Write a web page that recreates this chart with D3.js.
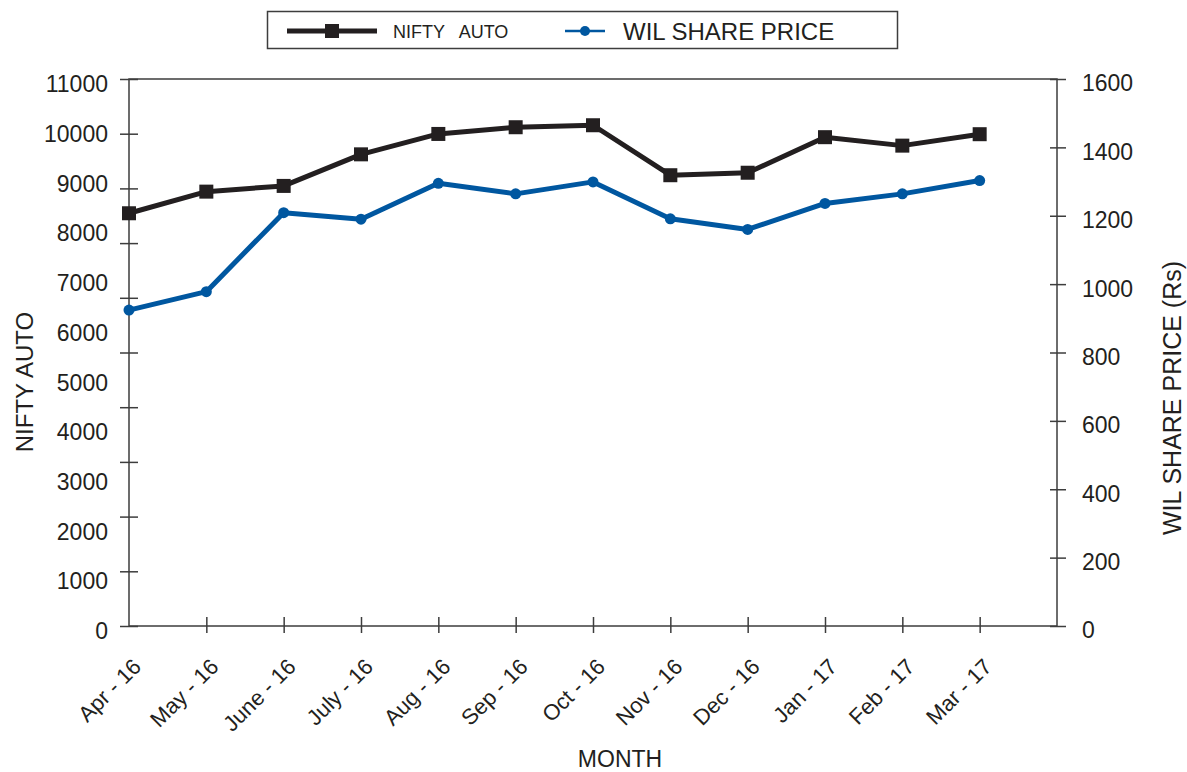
<!DOCTYPE html>
<html>
<head>
<meta charset="utf-8">
<script src="https://cdn.jsdelivr.net/npm/d3@7"></script>
<style>
  body { margin: 0; background: #fff; }
  text { font-family: "Liberation Sans", Arial, sans-serif; fill: #231f20; }
</style>
</head>
<body>
<div id="chart"></div>
<script>
var months = ["Apr - 16", "May - 16", "June - 16", "July - 16", "Aug - 16", "Sep - 16",
              "Oct - 16", "Nov - 16", "Dec - 16", "Jan - 17", "Feb - 17", "Mar - 17"];
var niftyAuto = [8300, 8735, 8850, 9485, 9895, 10030, 10070, 9065, 9115, 9830, 9660, 9890];
var wilPrice = [924, 978, 1209, 1190, 1295, 1264, 1299, 1191, 1160, 1236, 1264, 1303];
var leftTickLabels = d3.range(0, 11001, 1000);
var leftTickMarks = d3.range(0, 11001, 1100);
var rightTicks = d3.range(0, 1601, 200);

var W = 1187, H = 772;
var margin = {top: 79, right: 130, bottom: 146, left: 129};
var width = W - margin.left - margin.right;
var height = H - margin.top - margin.bottom;
var ink = "#231f20";
var frame = "#3d3d3d";
var blue = "#0057a0";

var svg = d3.select("#chart").append("svg")
    .attr("width", W)
    .attr("height", H);

var g = svg.append("g")
    .attr("transform", "translate(" + margin.left + "," + margin.top + ")");

var x = d3.scaleLinear().domain([0, months.length]).range([0, width]);
var yL = d3.scaleLinear().domain([0, 11000]).range([height, 0]);
var yR = d3.scaleLinear().domain([0, 1600]).range([height, 0]);

// frame
g.append("rect")
    .attr("width", width).attr("height", height)
    .attr("fill", "none").attr("stroke", frame).attr("stroke-width", 1.5);

// left axis: tick marks and labels are spaced differently in the original
var lm = g.append("g")
    .call(d3.axisLeft(yL).tickValues(leftTickMarks).tickFormat("").tickSize(9).tickSizeOuter(0));
lm.select(".domain").remove();
lm.selectAll("line").attr("x2", -9).attr("x1", 9).attr("stroke", frame).attr("stroke-width", 1.5);

var ll = g.append("g")
    .call(d3.axisLeft(yL).tickValues(leftTickLabels).tickFormat(d3.format("d"))
      .tickSize(0).tickPadding(21));
ll.select(".domain").remove();
ll.selectAll("text").attr("font-size", 23).attr("dy", "0.55em").attr("fill", ink)
    .attr("font-family", "Liberation Sans, Arial, sans-serif");

// right axis
var ra = g.append("g")
    .attr("transform", "translate(" + width + ",0)")
    .call(d3.axisRight(yR).tickValues(rightTicks).tickFormat(d3.format("d"))
      .tickSize(8).tickPadding(17));
ra.select(".domain").remove();
ra.selectAll("line").attr("x1", -7).attr("x2", 9).attr("stroke", frame).attr("stroke-width", 1.5);
ra.selectAll("text").attr("font-size", 23).attr("dy", "0.52em").attr("fill", ink)
    .attr("font-family", "Liberation Sans, Arial, sans-serif");

// bottom axis
var xa = g.append("g")
    .attr("transform", "translate(0," + height + ")")
    .call(d3.axisBottom(x).tickValues(d3.range(months.length))
      .tickFormat(function(i) { return months[i]; }).tickSize(7));
xa.select(".domain").remove();
xa.selectAll("line").attr("y1", -9).attr("y2", 7).attr("stroke", frame).attr("stroke-width", 1.5);
xa.selectAll("line").filter(function(d) { return d === 0; }).remove();
xa.selectAll("text")
    .attr("font-size", 22).attr("fill", ink)
    .attr("font-family", "Liberation Sans, Arial, sans-serif")
    .attr("text-anchor", "end")
    .attr("dy", null).attr("y", null)
    .attr("transform", "translate(13,42) rotate(-45)");

// axis titles
svg.append("text")
    .attr("transform", "translate(33,382) rotate(-90)")
    .attr("text-anchor", "middle").attr("font-size", 24)
    .text("NIFTY AUTO");

svg.append("text")
    .attr("transform", "translate(1181,398) rotate(-90)")
    .attr("text-anchor", "middle").attr("font-size", 25)
    .text("WIL SHARE PRICE (Rs)");

svg.append("text")
    .attr("x", 620).attr("y", 767)
    .attr("text-anchor", "middle").attr("font-size", 23)
    .text("MONTH");

// NIFTY AUTO line
var lineL = d3.line()
    .x(function(d, i) { return x(i); })
    .y(function(d) { return yL(d); });
g.append("path").datum(niftyAuto)
    .attr("fill", "none").attr("stroke", ink).attr("stroke-width", 5)
    .attr("stroke-linejoin", "round")
    .attr("d", lineL);
g.selectAll(".sq").data(niftyAuto).enter().append("rect")
    .attr("x", function(d, i) { return x(i) - 7; })
    .attr("y", function(d) { return yL(d) - 7; })
    .attr("width", 14).attr("height", 14)
    .attr("fill", ink);

// WIL line
var lineR = d3.line()
    .x(function(d, i) { return x(i); })
    .y(function(d) { return yR(d); });
g.append("path").datum(wilPrice)
    .attr("fill", "none").attr("stroke", blue).attr("stroke-width", 5)
    .attr("stroke-linejoin", "round")
    .attr("d", lineR);
g.selectAll(".dot").data(wilPrice).enter().append("circle")
    .attr("cx", function(d, i) { return x(i); })
    .attr("cy", function(d) { return yR(d); })
    .attr("r", 5.5)
    .attr("fill", blue);

// legend
var lg = svg.append("g");
lg.append("rect")
    .attr("x", 267.5).attr("y", 11.5).attr("width", 630).attr("height", 37)
    .attr("fill", "#fff").attr("stroke", frame).attr("stroke-width", 1.5);
lg.append("line").attr("x1", 287).attr("x2", 377).attr("y1", 31).attr("y2", 31)
    .attr("stroke", ink).attr("stroke-width", 5);
lg.append("rect").attr("x", 325).attr("y", 24).attr("width", 14).attr("height", 14).attr("fill", ink);
lg.append("text").attr("x", 393).attr("y", 38).attr("font-size", 18)
    .attr("word-spacing", 10)
    .text("NIFTY AUTO");
lg.append("line").attr("x1", 565).attr("x2", 605).attr("y1", 31).attr("y2", 31)
    .attr("stroke", blue).attr("stroke-width", 2.5);
lg.append("circle").attr("cx", 585).attr("cy", 31).attr("r", 5).attr("fill", blue);
lg.append("text").attr("x", 623).attr("y", 40).attr("font-size", 24)
    .text("WIL SHARE PRICE");
</script>
</body>
</html>
